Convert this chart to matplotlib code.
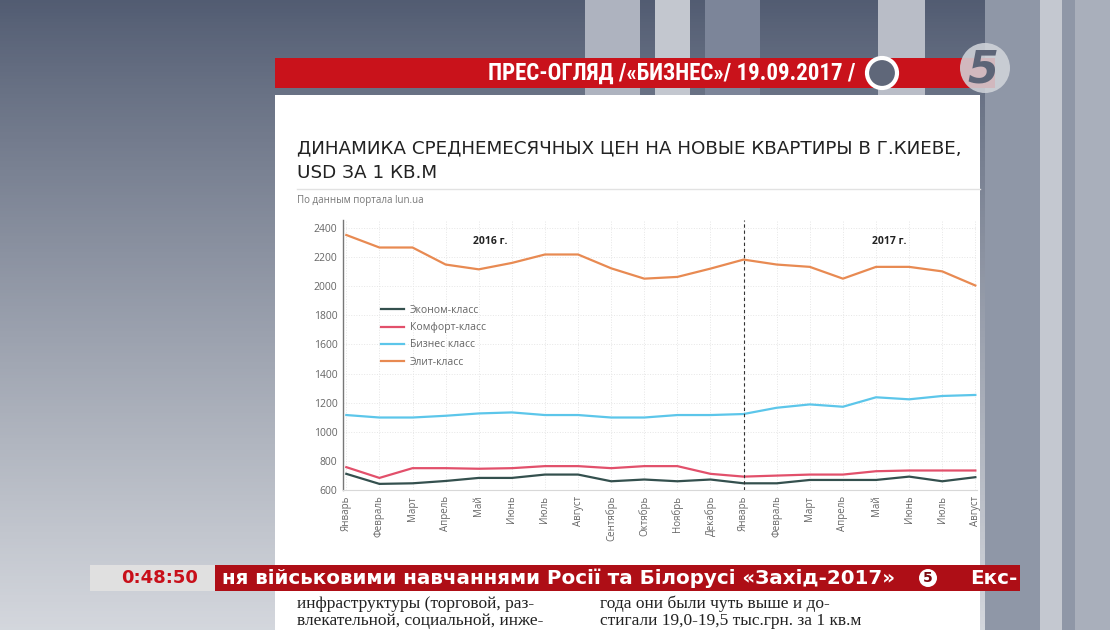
import numpy as np
import matplotlib
matplotlib.use("Agg")
import matplotlib.pyplot as plt
from matplotlib import font_manager as fm
from matplotlib.patches import Rectangle, Circle

# ---------------- data ----------------
months = ["Январь", "Февраль", "Март", "Апрель", "Май", "Июнь", "Июль", "Август",
          "Сентябрь", "Октябрь", "Ноябрь", "Декабрь",
          "Январь", "Февраль", "Март", "Апрель", "Май", "Июнь", "Июль", "Август"]
economy = [711, 642, 646, 662, 683, 683, 706, 706, 660, 672, 660, 672,
           646, 646, 669, 669, 669, 692, 660, 688]
comfort = [757, 683, 750, 750, 746, 750, 764, 764, 750, 764, 764, 711,
           692, 699, 706, 706, 729, 734, 734, 734]
business = [1115, 1098, 1098, 1110, 1126, 1133, 1115, 1115, 1098, 1098, 1115, 1115,
            1122, 1165, 1188, 1172, 1237, 1223, 1246, 1253]
elite = [2352, 2266, 2266, 2149, 2116, 2160, 2218, 2218, 2123, 2052, 2064, 2121,
         2183, 2149, 2133, 2052, 2133, 2133, 2102, 2005]
series_names = ["Эконом-класс", "Комфорт-класс", "Бизнес класс", "Элит-класс"]
yticks = [600, 800, 1000, 1200, 1400, 1600, 1800, 2000, 2200, 2400]
year_labels = ["2016 г.", "2017 г."]

colors = ["#34504e", "#e2506b", "#5cc6ea", "#e88a52"]

names = {f.name for f in fm.fontManager.ttflist}
NARROW = "DejaVu Sans"
for cand in ["Liberation Sans Narrow", "Roboto Condensed", "Open Sans Condensed"]:
    if cand in names:
        NARROW = cand
        break
SANS = "Open Sans" if "Open Sans" in names else "DejaVu Sans"
SERIF = "Liberation Serif" if "Liberation Serif" in names else "DejaVu Serif"

W, H = 1110, 630
fig = plt.figure(figsize=(W / 100, H / 100), dpi=100)

# ---------------- background (pixel coordinates) ----------------
bg = fig.add_axes([0, 0, 1, 1])
bg.set_xlim(0, W)
bg.set_ylim(H, 0)
bg.axis("off")
top = np.array([0x52, 0x5c, 0x72]) / 255
bot = np.array([0xd4, 0xd7, 0xdd]) / 255
t = np.linspace(0, 1, 200)[:, None]
grad = top + (bot - top) * (t ** 0.9)
img = np.repeat(grad[:, None, :], 2, axis=1)
bg.imshow(img, extent=[0, W, H, 0], aspect="auto", zorder=0)

# vertical stripes of the studio backdrop
for x0, x1, c, y1 in [(585, 640, "#aeb3bf", 95), (655, 690, "#c3c7cf", 95),
                      (705, 760, "#7c8599", 95), (878, 925, "#b9bdc7", 95),
                      (985, 1110, "#8f97a7", 630), (1040, 1062, "#c4c8d0", 630),
                      (1075, 1110, "#a9afbb", 630)]:
    bg.add_patch(Rectangle((x0, 0), x1 - x0, y1, color=c, zorder=1, lw=0))

# white paper panel
bg.add_patch(Rectangle((275, 95), 705, 540, color="white", zorder=2, lw=0))

# red top banner
bg.add_patch(Rectangle((275, 58), 720, 30, color="#c9121b", zorder=3, lw=0))
bg.text(855, 73, "ПРЕС-ОГЛЯД /«БИЗНЕС»/ 19.09.2017 /", color="white",
        fontsize=16.5, fontweight="bold", family=NARROW, fontstretch="condensed",
        ha="right", va="center", zorder=4)
bg.add_patch(Circle((882, 73), 15, facecolor="#5f6779", edgecolor="white", lw=3, zorder=4))
# channel logo
bg.add_patch(Circle((985, 68), 25, facecolor="#d3d6dc", edgecolor="none", alpha=0.85, zorder=4))
bg.text(983, 70, "5", color="#5c6477", fontsize=32, fontweight="bold", style="italic",
        family="DejaVu Sans", ha="center", va="center", zorder=5)

# chart title
bg.text(297, 148, "ДИНАМИКА СРЕДНЕМЕСЯЧНЫХ ЦЕН НА НОВЫЕ КВАРТИРЫ В Г.КИЕВЕ,",
        color="#222222", fontsize=13.2, family="DejaVu Sans",
        ha="left", va="center", zorder=4)
bg.text(297, 173, "USD ЗА 1 КВ.М", color="#222222", fontsize=13.2, family="DejaVu Sans",
        ha="left", va="center", zorder=4)
bg.plot([297, 980], [189, 189], color="#e2e2e2", lw=1, zorder=4)
bg.text(297, 201, "По данным портала lun.ua", color="#777777", fontsize=7,
        family=SANS, ha="left", va="center", zorder=4)

# bottom news ticker
bg.add_patch(Rectangle((90, 565), 125, 26, color="#e0e0e0", zorder=6, lw=0))
bg.text(160, 578, "0:48:50", color="#c8101a", fontsize=13, fontweight="bold",
        family="DejaVu Sans", ha="center", va="center", zorder=7)
bg.add_patch(Rectangle((215, 565), 805, 26, color="#ae0e16", zorder=6, lw=0))
bg.text(222, 578, "ня військовими навчаннями Росії та Білорусі «Захід-2017»",
        color="white", fontsize=14.3, fontweight="bold", family="DejaVu Sans",
        ha="left", va="center", zorder=7)
bg.add_patch(Circle((928, 578), 9, facecolor="white", edgecolor="none", zorder=7))
bg.text(928, 578.5, "5", color="#7a0a10", fontsize=10, fontweight="bold",
        family="DejaVu Sans", ha="center", va="center", zorder=8)
bg.text(1017, 578, "Екс-", color="white", fontsize=14.3, fontweight="bold",
        family="DejaVu Sans", ha="right", va="center", zorder=7)

# newspaper text under the ticker
for xx, yy, s in [(297, 604, "инфраструктуры (торговой, раз-"),
                  (297, 621, "влекательной, социальной, инже-"),
                  (600, 604, "года они были чуть выше и до-"),
                  (600, 621, "стигали 19,0-19,5 тыс.грн. за 1 кв.м")]:
    bg.text(xx, yy, s, color="#222", fontsize=12.5, family=SERIF,
            ha="left", va="center", zorder=4)

# ---------------- chart ----------------
L, R, T, B = 343, 977, 220, 490
ax = fig.add_axes([L / W, 1 - B / H, (R - L) / W, (B - T) / H])
ax.set_facecolor("none")
x = np.arange(len(months))
for vals, name, c in zip([economy, comfort, business, elite], series_names, colors):
    ax.plot(x, vals, color=c, lw=1.6, label=name, solid_joinstyle="round")

ax.set_xlim(-0.1, len(months) - 0.95)
ax.set_ylim(600, 2455)
ax.set_yticks(yticks)
ax.set_yticklabels([str(v) for v in yticks], fontsize=7.5, color="#666666", family=SANS)
ax.set_xticks(x)
ax.set_xticklabels(months, rotation=90, fontsize=7, color="#666666", family=SANS)
ax.tick_params(axis="both", length=0, pad=4)
ax.grid(True, color="#e6e6e6", ls=":", lw=0.7)
for s in ["top", "right"]:
    ax.spines[s].set_visible(False)
ax.spines["left"].set_color("#777777")
ax.spines["left"].set_linewidth(1.0)
ax.spines["bottom"].set_color("#d8d8d8")
ax.axvline(12, color="#333333", lw=0.8, ls=(0, (3, 2.5)))

ax.text(4.35, 2310, year_labels[0], fontsize=7.5, fontweight="bold", color="#222",
        family=SANS, ha="center", va="center")
ax.text(16.4, 2310, year_labels[1], fontsize=7.5, fontweight="bold", color="#222",
        family=SANS, ha="center", va="center")

leg = ax.legend(loc="upper left", bbox_to_anchor=(0.045, 0.72), frameon=False,
                fontsize=7.5, handlelength=2.2, labelspacing=0.6, handletextpad=0.6)
for txt in leg.get_texts():
    txt.set_color("#666666")
    txt.set_family(SANS)

fig.savefig("out.png", dpi=100)
